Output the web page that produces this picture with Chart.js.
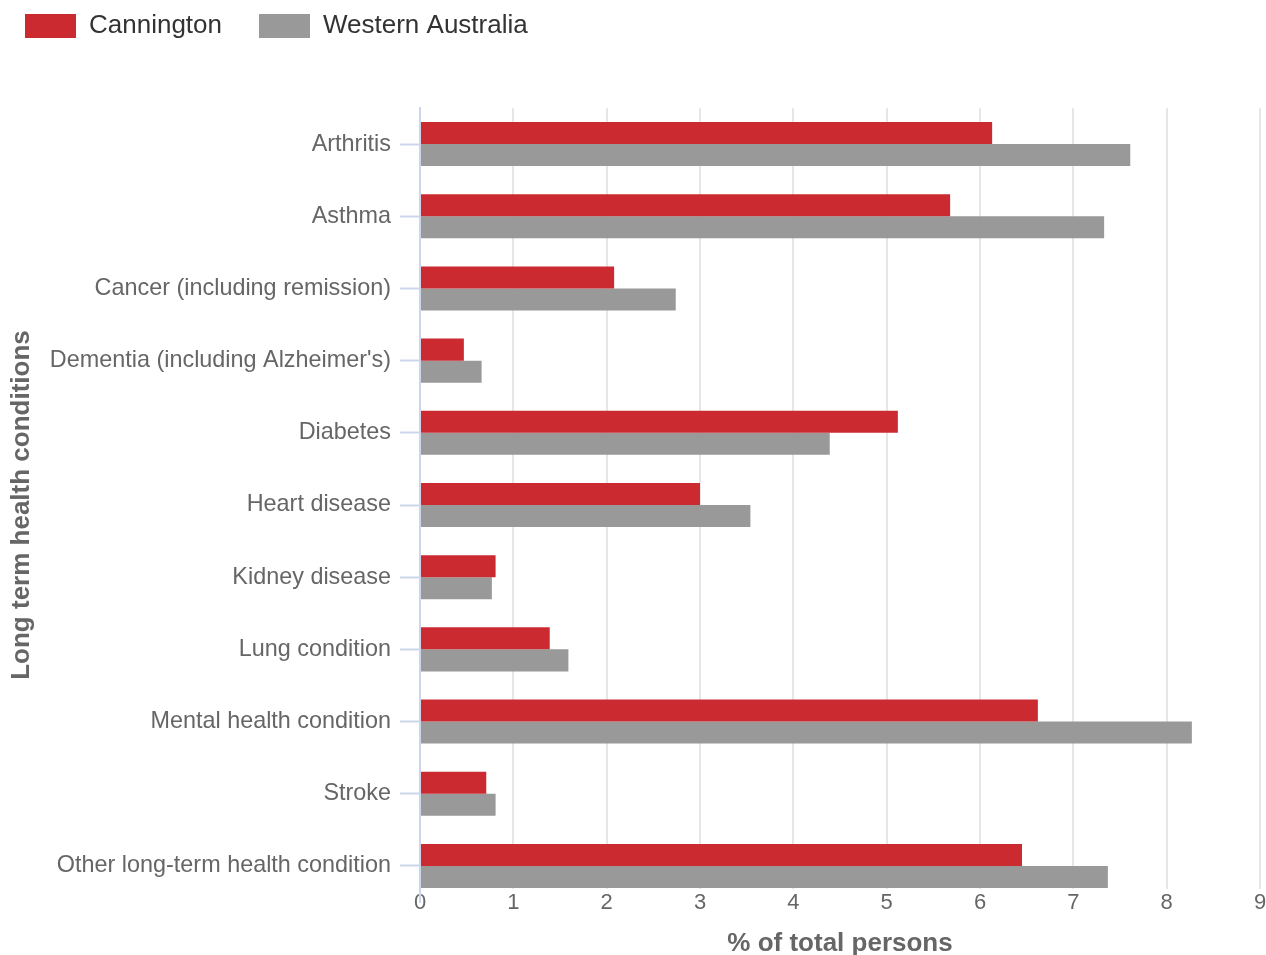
<!DOCTYPE html>
<html>
<head>
<meta charset="utf-8">
<script src="https://cdn.jsdelivr.net/npm/chart.js@4"></script>
<style>
html,body{margin:0;padding:0;background:#fff;}
#wrap{width:1266px;height:955px;position:relative;}
</style>
</head>
<body>
<div id="wrap"><canvas id="c" width="1266" height="955"></canvas></div>
<script>
const categories = ["Arthritis","Asthma","Cancer (including remission)","Dementia (including Alzheimer's)","Diabetes","Heart disease","Kidney disease","Lung condition","Mental health condition","Stroke","Other long-term health condition"];
const cannington = [6.13,5.68,2.08,0.47,5.12,3.00,0.81,1.39,6.62,0.71,6.45];
const westernAustralia = [7.61,7.33,2.74,0.66,4.39,3.54,0.77,1.59,8.27,0.81,7.37];
const xTicks = [0,1,2,3,4,5,6,7,8,9];
const seriesNames = ["Cannington","Western Australia"];

const FONT = "'Liberation Sans', Arial, Helvetica, sans-serif";

new Chart(document.getElementById('c'), {
  type: 'bar',
  data: {
    labels: categories,
    datasets: [
      {label: seriesNames[0], data: cannington, backgroundColor: '#cc2a31', borderWidth: 0, categoryPercentage: 0.61, barPercentage: 1.0},
      {label: seriesNames[1], data: westernAustralia, backgroundColor: '#999999', borderWidth: 0, categoryPercentage: 0.61, barPercentage: 1.0}
    ]
  },
  options: {
    indexAxis: 'y',
    responsive: false,
    animation: false,
    layout: {padding: {left: 6, right: 6, top: 0, bottom: 0}},
    plugins: {
      tooltip: {enabled: false},
      legend: {
        position: 'top',
        align: 'start',
        labels: {
          boxWidth: 51, boxHeight: 24,
          color: '#333333',
          font: {family: FONT, size: 26},
          padding: 37
        }
      }
    },
    scales: {
      x: {
        min: 0, max: 9,
        afterBuildTicks: (s) => { s.ticks = xTicks.map(v => ({value: v})); },
        ticks: {color: '#666666', font: {family: FONT, size: 22}, padding: -12, maxRotation: 0,
                showLabelBackdrop: true, backdropColor: '#ffffff', backdropPadding: {top: 1, bottom: 1, left: 3, right: 3}},
        grid: {color: '#e6e6e6', lineWidth: 2, drawTicks: false},
        border: {display: false},
        title: {display: true, text: '% of total persons', color: '#666666', font: {family: FONT, size: 26, weight: 'bold', lineHeight: 1.0}, padding: {top: 0, bottom: -2}},
        afterFit: (s) => { s.height = 53; s._computeLabelArea = function() { return undefined; }; }
      },
      y: {
        ticks: {color: '#666666', font: {family: FONT, size: 23.4}, padding: 9},
        grid: {offset: false, drawOnChartArea: false, drawTicks: true, tickLength: 20, tickColor: '#ccd6eb', tickWidth: 2},
        border: {display: true, color: '#ccd6eb', width: 2},
        title: {display: true, text: 'Long term health conditions', color: '#666666', font: {family: FONT, size: 26, weight: 'bold'}, padding: {top: 0, bottom: 4}},
        afterFit: (s) => { s.width = 414; }
      }
    }
  },
  plugins: [{
    id: 'legendGap',
    afterInit(chart) {
      const lg = chart.legend;
      const origFit = lg.fit.bind(lg);
      lg.fit = function() { origFit(); this.height = 108; };
    },
    afterLayout(chart) {
      const lg = chart.legend;
      lg.left -= 18;
      lg.top -= 24;
    }
  }]
});
</script>
</body>
</html>
